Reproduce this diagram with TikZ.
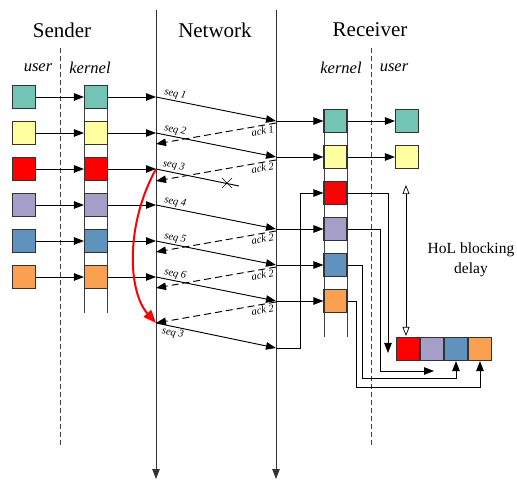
\documentclass[tikz,border=0pt]{standalone}
\usepackage{fontspec}
\setmainfont{Liberation Serif}
\usetikzlibrary{arrows.meta,calc}
\definecolor{pktTeal}{RGB}{114,196,180}
\definecolor{pktYellow}{RGB}{255,255,160}
\definecolor{pktRed}{RGB}{255,0,0}
\definecolor{pktPurple}{RGB}{165,158,200}
\definecolor{pktBlue}{RGB}{96,146,190}
\definecolor{pktOrange}{RGB}{250,160,80}
\tikzset{
  pkt/.style={draw=black!80, line width=1.1pt, minimum size=23pt, inner sep=0pt},
  seqlbl/.style={font=\fontsize{10.5}{12}\selectfont\itshape, inner sep=1.5pt, anchor=south, rotate=-11},
  acklbl/.style={font=\fontsize{10.5}{12}\selectfont\itshape, inner sep=1.5pt, anchor=north, rotate=10}
}
\newcommand{\Packet}[4]{%
  \node[pkt, fill=#3] (#4) at (#1,#2) {};
}

\begin{document}
\begin{tikzpicture}[x=1pt, y=-1pt, line width=0.95pt,
  >={Triangle[length=10pt,width=7.5pt]}]

\useasboundingbox (0,0) rectangle (517,486);

% ---------------- parameters ----------------
\pgfmathsetmacro{\NetL}{156}   % left edge of the network
\pgfmathsetmacro{\NetR}{276}   % right edge of the network
\pgfmathsetmacro{\NetTop}{10}
\pgfmathsetmacro{\NetBot}{479}

% network edges
\coordinate (Ltop) at (\NetL,\NetTop);
\coordinate (Lbot) at (\NetL,\NetBot);
\coordinate (Rtop) at (\NetR,\NetTop);
\coordinate (Rbot) at (\NetR,\NetBot);

% where the segments leave the sender
\coordinate (L1) at (\NetL,97);
\coordinate (L2) at (\NetL,133);
\coordinate (L3) at (\NetL,169);
\coordinate (L4) at (\NetL,205);
\coordinate (L5) at (\NetL,241);
\coordinate (L6) at (\NetL,277);
\coordinate (L7) at (\NetL,323);

% where the segments reach the receiver
\coordinate (R1) at (\NetR,121);
\coordinate (R2) at (\NetR,157);
\coordinate (R4) at (\NetR,229);
\coordinate (R5) at (\NetR,265);
\coordinate (R6) at (\NetR,301);
\coordinate (R7) at (\NetR,348);

% acks (start at receiver, end at sender)
\coordinate (A1s) at (\NetR,123);  \coordinate (A1e) at (\NetL,144);
\coordinate (A2s) at (\NetR,160);  \coordinate (A2e) at (\NetL,181);
\coordinate (A4s) at (\NetR,231);  \coordinate (A4e) at (\NetL,252);
\coordinate (A5s) at (\NetR,267);  \coordinate (A5e) at (\NetL,288);
\coordinate (A6s) at (\NetR,302);

% the lost segment
\coordinate (Lost) at (227,183);
\coordinate (LostEnd) at (239,186);

% ---------------- titles ----------------
\node[font=\fontsize{21}{24}\selectfont] (sender) at (62,30) {Sender};
\node[font=\fontsize{21}{24}\selectfont] (network) at (215,30) {Network};
\node[font=\fontsize{21}{24}\selectfont] (receiver) at (370,30) {Receiver};

\node[font=\fontsize{16.5}{18}\selectfont\itshape] (sUser) at (38,68) {user};
\node[font=\fontsize{16.5}{18}\selectfont\itshape] (sKernel) at (90,68) {kernel};
\node[font=\fontsize{16.5}{18}\selectfont\itshape] (rKernel) at (341,68) {kernel};
\node[font=\fontsize{16.5}{18}\selectfont\itshape] (rUser) at (394,68) {user};

% ---------------- separators ----------------
\draw[black!75, dash pattern=on 5pt off 3pt] (60,48) -- (60,445);
\draw[black!75, dash pattern=on 5pt off 3pt] (371,48) -- (371,445);

\draw[black!80,->] (Ltop) -- (Lbot);
\draw[black!80,->] (Rtop) -- (Rbot);

% kernel buffers
\draw[black!75] (84.5,85) -- (84.5,313);
\draw[black!75] (107.5,85) -- (107.5,313);
\draw[black!75] (324,109) -- (324,337);
\draw[black!75] (347,109) -- (347,337);

% ---------------- packets ----------------
\Packet{24}{97}{pktTeal}{sU1}
\Packet{24}{133}{pktYellow}{sU2}
\Packet{24}{169}{pktRed}{sU3}
\Packet{24}{205}{pktPurple}{sU4}
\Packet{24}{241}{pktBlue}{sU5}
\Packet{24}{277}{pktOrange}{sU6}

\Packet{96}{97}{pktTeal}{sK1}
\Packet{96}{133}{pktYellow}{sK2}
\Packet{96}{169}{pktRed}{sK3}
\Packet{96}{205}{pktPurple}{sK4}
\Packet{96}{241}{pktBlue}{sK5}
\Packet{96}{277}{pktOrange}{sK6}

\Packet{335.5}{121}{pktTeal}{rK1}
\Packet{335.5}{157}{pktYellow}{rK2}
\Packet{335.5}{193}{pktRed}{rK3}
\Packet{335.5}{229}{pktPurple}{rK4}
\Packet{335.5}{265}{pktBlue}{rK5}
\Packet{335.5}{301}{pktOrange}{rK6}

\Packet{407}{121}{pktTeal}{rU1}
\Packet{407}{157}{pktYellow}{rU2}

% reordered queue at the application
\Packet{408}{349}{pktRed}{hq1}
\Packet{432}{349}{pktPurple}{hq2}
\Packet{456}{349}{pktBlue}{hq3}
\Packet{480}{349}{pktOrange}{hq4}

% ---------------- sender side ----------------
\draw[->] (sU1) -- (sK1);
\draw[->] (sU2) -- (sK2);
\draw[->] (sU3) -- (sK3);
\draw[->] (sU4) -- (sK4);
\draw[->] (sU5) -- (sK5);
\draw[->] (sU6) -- (sK6);

\draw[->] (sK1) -- (L1);
\draw[->] (sK2) -- (L2);
\draw[->] (sK3) -- (L3);
\draw[->] (sK4) -- (L4);
\draw[->] (sK5) -- (L5);
\draw[->] (sK6) -- (L6);

% ---------------- segments and acks ----------------
\draw[->] (L1) -- node[seqlbl, pos=0.15] {seq 1} (R1);
\draw[->] (L2) -- node[seqlbl, pos=0.15] {seq 2} (R2);
\draw (L3) -- node[seqlbl, pos=0.2] {seq 3} (LostEnd);
\draw[line width=0.6pt] ($(Lost)+(-5,-5)$) -- ($(Lost)+(5,5)$);
\draw[line width=0.6pt] ($(Lost)+(-5,5)$) -- ($(Lost)+(5,-5)$);
\draw[->] (L4) -- node[seqlbl, pos=0.15] {seq 4} (R4);
\draw[->] (L5) -- node[seqlbl, pos=0.15] {seq 5} (R5);
\draw[->] (L6) -- node[seqlbl, pos=0.15] {seq 6} (R6);
\draw[->] (L7) -- node[seqlbl, anchor=north, pos=0.15] {seq 3} (R7);

\draw[->, dash pattern=on 7pt off 4pt] (A1s) -- node[acklbl, pos=0.12] {ack 1} (A1e);
\draw[->, dash pattern=on 7pt off 4pt] (A2s) -- node[acklbl, pos=0.12] {ack 2} (A2e);
\draw[->, dash pattern=on 7pt off 4pt] (A4s) -- node[acklbl, pos=0.12] {ack 2} (A4e);
\draw[->, dash pattern=on 7pt off 4pt] (A5s) -- node[acklbl, pos=0.12] {ack 2} (A5e);
\draw[->, dash pattern=on 7pt off 4pt] (A6s) -- node[acklbl, pos=0.12] {ack 2} (L7);

% retransmission after the duplicate acks
\draw[red, line width=2pt, -{Triangle[length=13pt,width=10pt]}]
  (L3) .. controls (125,225) and (128,292) .. (L7);

% ---------------- receiver side ----------------
\draw[->] (R1) -- (rK1);
\draw[->] (R2) -- (rK2);
\draw[->] (R4) -- (rK4);
\draw[->] (R5) -- (rK5);
\draw[->] (R6) -- (rK6);
\draw[->] (R7) -- ++(24,0) |- (rK3);

\draw[->] (rK1) -- (rU1);
\draw[->] (rK2) -- (rU2);

% delivery after the hole is filled
\coordinate (HoLa) at (388,353);
\coordinate (HoLb) at (434,371);
\draw[->] (rK3.east) -| (HoLa);
\draw[->] (rK4.east) -- ++(33,0) |- (HoLb);
\draw[->] (rK5.east) -- ++(15,0) -- ++(0,113) -| (hq3.south);
\draw[->] (rK6.east) -- ++(9,0) -- ++(0,86) -| (hq4.south);

% ---------------- HoL blocking delay ----------------
\coordinate (HoLtop) at (406,185);
\coordinate (HoLbot) at (406,336);
\draw[{Triangle[open,length=9pt,width=7pt]}-{Triangle[open,length=9pt,width=7pt]}, line width=0.7pt]
  (HoLtop) -- (HoLbot);
\node[font=\fontsize{15.5}{20}\selectfont, align=center] (holtxt) at (471,260) {HoL blocking\\delay};

\end{tikzpicture}
\end{document}
